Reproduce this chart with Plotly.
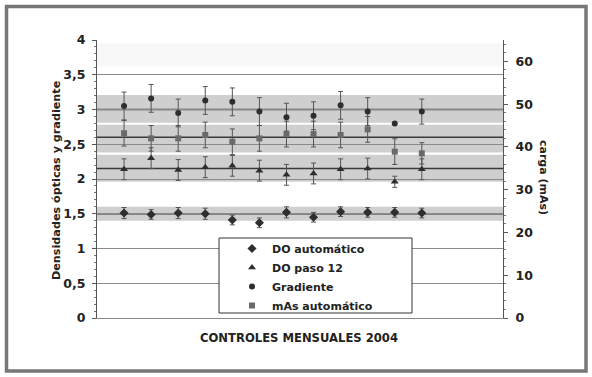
import plotly.graph_objects as go

# ---- data ----
months = list(range(1, 13))
do_auto = [1.51, 1.49, 1.51, 1.50, 1.41, 1.37, 1.52, 1.45, 1.53, 1.52, 1.52, 1.51]
do_auto_err = [0.08, 0.07, 0.08, 0.08, 0.07, 0.07, 0.08, 0.07, 0.07, 0.07, 0.07, 0.07]
do_paso12 = [2.14, 2.30, 2.13, 2.17, 2.19, 2.12, 2.06, 2.08, 2.14, 2.15, 1.96, 2.14]
do_paso12_err = [0.15, 0.15, 0.15, 0.15, 0.15, 0.15, 0.15, 0.15, 0.15, 0.15, 0.08, 0.15]
gradiente = [3.05, 3.16, 2.95, 3.13, 3.11, 2.97, 2.89, 2.91, 3.06, 2.97, 2.80, 2.97]
gradiente_err = [0.2, 0.2, 0.2, 0.2, 0.2, 0.2, 0.2, 0.2, 0.2, 0.2, 0.0, 0.18]
mas_auto = [43.2, 42.0, 42.0, 42.8, 41.2, 42.0, 43.0, 43.0, 42.8, 44.1, 38.9, 38.5]
mas_auto_err = [3, 3, 3, 3, 3, 3, 3, 3, 3, 3, 3, 2.5]

# reference values (left axis) and tolerance bands
ref_lines = [3.0, 2.6, 2.15, 1.5]
bands = [(2.81, 3.21), (2.38, 2.78), (1.96, 2.35), (1.40, 1.60)]

left_ticks = [0, 0.5, 1, 1.5, 2, 2.5, 3, 3.5, 4]
left_ticktext = ["0", "0,5", "1", "1,5", "2", "2,5", "3", "3,5", "4"]
right_ticks = [0, 10, 20, 30, 40, 50, 60]

FONT = "DejaVu Sans"
TXT = "#222222"
mk_color = "#2e2e2e"
err_style = dict(type="data", thickness=1, width=2.5, color="#555555")

fig = go.Figure()
fig.add_trace(go.Scatter(x=months, y=do_auto, mode="markers", name="DO automático",
                         marker=dict(symbol="diamond", size=7, color=mk_color),
                         error_y=dict(array=do_auto_err, **err_style)))
fig.add_trace(go.Scatter(x=months, y=do_paso12, mode="markers", name="DO paso 12",
                         marker=dict(symbol="triangle-up", size=7, color=mk_color),
                         error_y=dict(array=do_paso12_err, **err_style)))
fig.add_trace(go.Scatter(x=months, y=gradiente, mode="markers", name="Gradiente",
                         marker=dict(symbol="circle", size=6, color=mk_color),
                         error_y=dict(array=gradiente_err, **err_style)))
fig.add_trace(go.Scatter(x=months, y=mas_auto, mode="markers", name="mAs automático",
                         yaxis="y2",
                         marker=dict(symbol="square", size=6, color="#6a6a6a"),
                         error_y=dict(array=mas_auto_err, **err_style)))

shapes = []
for lo, hi in bands:
    shapes.append(dict(type="rect", xref="paper", yref="y", x0=0, x1=1, y0=lo, y1=hi,
                       fillcolor="#cfcfcf", line=dict(width=0), layer="below"))
# faint top shading
shapes.append(dict(type="rect", xref="paper", yref="y", x0=0, x1=1, y0=3.62, y1=3.95,
                   fillcolor="#f8f8f8", line=dict(width=0), layer="below"))
for r in ref_lines:
    shapes.append(dict(type="line", xref="paper", yref="y", x0=0, x1=1, y0=r, y1=r,
                       line=dict(color="#3a3a3a", width=1.5), layer="between"))

# legend box
L, T, R, B = 219, 238, 412, 313
def px(xv):
    return (xv - 97) / 406
def py(yv):
    return (318 - yv) / 278
shapes.append(dict(type="rect", xref="paper", yref="paper", x0=px(L), x1=px(R), y0=py(B), y1=py(T),
                   fillcolor="white", line=dict(color="#333333", width=1), layer="above"))
# outer frame
shapes.append(dict(type="rect", xref="paper", yref="paper", x0=px(6.5), x1=px(586), y0=py(371), y1=py(6.5),
                   line=dict(color="#777777", width=3.5), layer="above"))

fig.update_layout(
    width=592, height=377,
    margin=dict(l=97, r=89, t=40, b=59),
    paper_bgcolor="white", plot_bgcolor="white",
    font=dict(family=FONT, size=10, color=TXT, weight="bold"),
    showlegend=True,
    legend=dict(x=px(232), y=py(234), xanchor="left", yanchor="top",
                bgcolor="rgba(0,0,0,0)", borderwidth=0, itemwidth=30,
                font=dict(family=FONT, size=11, color=TXT, weight="bold"),
                tracegroupgap=0),
    xaxis=dict(range=[0, 15], showticklabels=False, ticks="", showgrid=False,
               showline=True, linecolor="#888888", linewidth=1, zeroline=False),
    yaxis=dict(range=[0, 4], tickvals=left_ticks, ticktext=left_ticktext,
               showgrid=True, gridcolor="#8a8a8a", gridwidth=1, zeroline=False,
               showline=True, linecolor="#555555", linewidth=1,
               ticks="outside", ticklen=4, tickcolor="#555555", ticklabelstandoff=4,
               minor=dict(dtick=0.1, ticks="outside", ticklen=2, tickcolor="#777777", showgrid=False),
               tickfont=dict(family=FONT, size=12.5, color=TXT, weight="bold")),
    yaxis2=dict(range=[0, 65], overlaying="y", side="right", tickvals=right_ticks,
                showgrid=False, zeroline=False,
                showline=True, linecolor="#555555", linewidth=1,
                ticks="outside", ticklen=4, tickcolor="#555555", ticklabelstandoff=5,
                minor=dict(dtick=2, ticks="outside", ticklen=2, tickcolor="#777777", showgrid=False),
                tickfont=dict(family=FONT, size=12.5, color=TXT, weight="bold")),
    shapes=shapes,
    annotations=[
        dict(text="CONTROLES MENSUALES 2004", xref="paper", yref="paper", x=px(299), y=py(338),
             xanchor="center", yanchor="middle",
             showarrow=False, font=dict(family=FONT, size=11.6, color=TXT, weight="bold")),
        dict(text="Densidades ópticas y gradiente", xref="paper", yref="paper", x=px(56), y=py(180),
             xanchor="center", yanchor="middle",
             textangle=-90, showarrow=False, font=dict(family=FONT, size=11.2, color=TXT, weight="bold")),
        dict(text="carga (mAs)", xref="paper", yref="paper", x=px(544), y=py(177),
             xanchor="center", yanchor="middle",
             textangle=90, showarrow=False, font=dict(family=FONT, size=11, color=TXT, weight="bold")),
    ],
)

fig.write_html("out.html", config={"displayModeBar": False},
               post_script="document.body.style.margin='0';")
